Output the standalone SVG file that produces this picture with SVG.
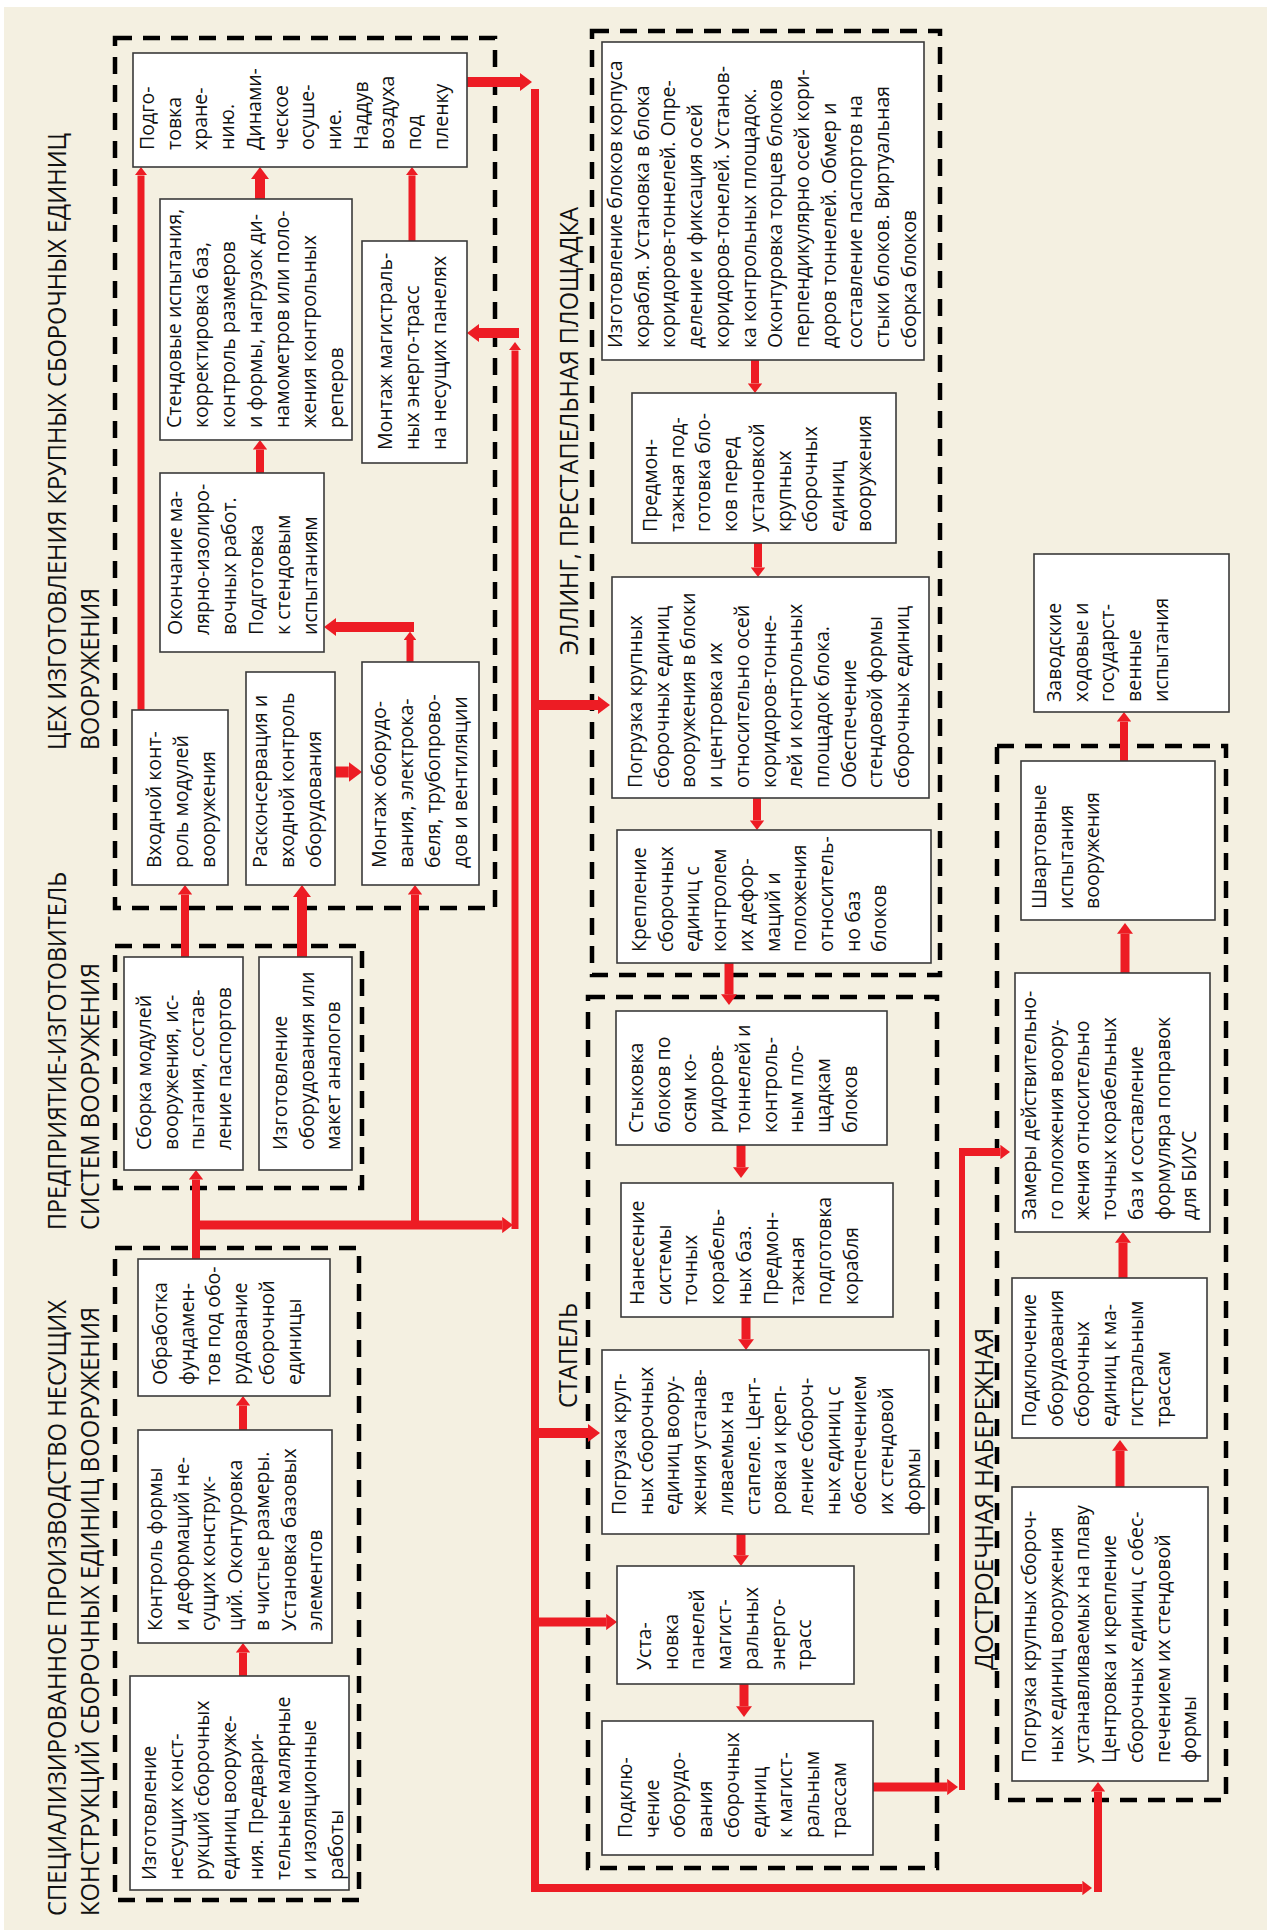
<svg xmlns="http://www.w3.org/2000/svg" width="1267" height="1930" viewBox="0 0 1267 1930">
<style>
.bg{fill:#f4f0e1}
.grp{fill:none;stroke:#000;stroke-width:4.5;stroke-dasharray:17 11}
.box{fill:#fff;stroke:#3a3a3a;stroke-width:1.6}
.t{font-family:"Open Sans","Noto Sans",sans-serif;font-size:19.5px;fill:#111}
.h{font-family:"Open Sans","Noto Sans",sans-serif;font-size:26px;fill:#111}
.c{fill:none;stroke:#ed1c24;stroke-linejoin:miter}
</style>
<defs>
<marker id="ah" viewBox="0 0 12 18" refX="0" refY="9" markerWidth="1.2" markerHeight="1.8" markerUnits="strokeWidth" orient="auto"><path d="M0,0 L12,9 L0,18 Z" fill="#ed1c24"/></marker>
</defs>
<rect class="bg" x="4" y="7" width="1263" height="1923"/>

<g id="groups">
<rect class="grp" x="115" y="38" width="380" height="870"/>
<rect class="grp" x="115" y="946" width="247" height="242"/>
<rect class="grp" x="115" y="1248" width="244" height="652"/>
<rect class="grp" x="592" y="31" width="348" height="944"/>
<rect class="grp" x="588" y="997" width="349" height="871"/>
<rect class="grp" x="997" y="746" width="229" height="1054"/>
</g>

<g id="titles">
<text class="h" transform="translate(66,750) rotate(-90)" textLength="617" lengthAdjust="spacingAndGlyphs">ЦЕХ ИЗГОТОВЛЕНИЯ КРУПНЫХ СБОРОЧНЫХ ЕДИНИЦ</text>
<text class="h" transform="translate(99,750) rotate(-90)" textLength="162" lengthAdjust="spacingAndGlyphs">ВООРУЖЕНИЯ</text>
<text class="h" transform="translate(66,1230) rotate(-90)" textLength="358" lengthAdjust="spacingAndGlyphs">ПРЕДПРИЯТИЕ-ИЗГОТОВИТЕЛЬ</text>
<text class="h" transform="translate(99,1230) rotate(-90)" textLength="267" lengthAdjust="spacingAndGlyphs">СИСТЕМ ВООРУЖЕНИЯ</text>
<text class="h" transform="translate(66,1916) rotate(-90)" textLength="616" lengthAdjust="spacingAndGlyphs">СПЕЦИАЛИЗИРОВАННОЕ ПРОИЗВОДСТВО НЕСУЩИХ</text>
<text class="h" transform="translate(99,1916) rotate(-90)" textLength="609" lengthAdjust="spacingAndGlyphs">КОНСТРУКЦИЙ СБОРОЧНЫХ ЕДИНИЦ ВООРУЖЕНИЯ</text>
<text class="h" transform="translate(578,655) rotate(-90)" textLength="448" lengthAdjust="spacingAndGlyphs">ЭЛЛИНГ, ПРЕСТАПЕЛЬНАЯ ПЛОЩАДКА</text>
<text class="h" transform="translate(577,1408) rotate(-90)" textLength="105" lengthAdjust="spacingAndGlyphs">СТАПЕЛЬ</text>
<text class="h" transform="translate(993,1670) rotate(-90)" textLength="342" lengthAdjust="spacingAndGlyphs">ДОСТРОЕЧНАЯ НАБЕРЕЖНАЯ</text>
</g>

<g id="connectors" class="c" marker-end="url(#ah)">
<path d="M141,710 V175.4" stroke-width="7" marker-end="url(#ah)"/>
<path d="M260,199 V179" stroke-width="10" marker-end="url(#ah)"/>
<path d="M412,241 V175.4" stroke-width="7" marker-end="url(#ah)"/>
<path d="M260,473 V449.6" stroke-width="8" marker-end="url(#ah)"/>
<path d="M410,662 V640" stroke-width="7" marker-end="url(#ah)"/>
<path d="M414,627 H336" stroke-width="10" marker-end="url(#ah)"/>
<path d="M335,772 H348.8" stroke-width="11" marker-end="url(#ah)"/>
<path d="M467,82 H520" stroke-width="10" marker-end="url(#ah)"/>
<path d="M535,89 V1888 H1082.4" stroke-width="8" marker-end="url(#ah)"/>
<path d="M1098,1892 V1791.6" stroke-width="8" marker-end="url(#ah)"/>
<path d="M539,705 H598" stroke-width="10" marker-end="url(#ah)"/>
<path d="M539,1433 H588" stroke-width="10" marker-end="url(#ah)"/>
<path d="M539,1622 H606.2" stroke-width="9" marker-end="url(#ah)"/>
<path d="M185,957 V894.6" stroke-width="8" marker-end="url(#ah)"/>
<path d="M302,957 V897" stroke-width="10" marker-end="url(#ah)"/>
<path d="M196,1259 V1179.6" stroke-width="8" marker-end="url(#ah)"/>
<path d="M200,1225 H502.2" stroke-width="9" marker-end="url(#ah)"/>
<path d="M415,1229 V894.6" stroke-width="8" marker-end="url(#ah)"/>
<path d="M515,1229 V350.4" stroke-width="7" marker-end="url(#ah)"/>
<path d="M519,333 H479" stroke-width="10" marker-end="url(#ah)"/>
<path d="M243,1430 V1405.6" stroke-width="8" marker-end="url(#ah)"/>
<path d="M243,1676 V1652.6" stroke-width="8" marker-end="url(#ah)"/>
<path d="M755,360 V383.4" stroke-width="8" marker-end="url(#ah)"/>
<path d="M758,543 V567.4" stroke-width="8" marker-end="url(#ah)"/>
<path d="M757,798 V820.4" stroke-width="8" marker-end="url(#ah)"/>
<path d="M729,963 V994.2" stroke-width="9" marker-end="url(#ah)"/>
<path d="M741,1145 V1167.2" stroke-width="9" marker-end="url(#ah)"/>
<path d="M746,1317 V1339.2" stroke-width="9" marker-end="url(#ah)"/>
<path d="M741,1534 V1555.2" stroke-width="9" marker-end="url(#ah)"/>
<path d="M744,1684 V1706.2" stroke-width="9" marker-end="url(#ah)"/>
<path d="M873,1787 H947.2" stroke-width="9" marker-end="url(#ah)"/>
<path d="M962,1790 V1149" stroke-width="6" marker-end="none"/>
<path d="M959,1152 H1000.4" stroke-width="8" marker-end="url(#ah)"/>
<path d="M1120,1487 V1450.8" stroke-width="9" marker-end="url(#ah)"/>
<path d="M1123,1278 V1242.8" stroke-width="9" marker-end="url(#ah)"/>
<path d="M1125,973 V933.8" stroke-width="9" marker-end="url(#ah)"/>
<path d="M1124,761 V721.6" stroke-width="8" marker-end="url(#ah)"/>
</g>

<g id="n-podgotovka"><rect class="box" x="133" y="53" width="334" height="114"/>
<text class="t" transform="translate(154,150) rotate(-90)"><tspan x="0" y="0">Подго-</tspan><tspan x="0" dy="26.7">товка</tspan><tspan x="0" dy="26.7">хране-</tspan><tspan x="0" dy="26.7">нию.</tspan><tspan x="0" dy="26.7">Динами-</tspan><tspan x="0" dy="26.7">ческое</tspan><tspan x="0" dy="26.7">осуше-</tspan><tspan x="0" dy="26.7">ние.</tspan><tspan x="0" dy="26.7">Наддув</tspan><tspan x="0" dy="26.7">воздуха</tspan><tspan x="0" dy="26.7">под</tspan><tspan x="0" dy="26.7">пленку</tspan></text></g>

<g id="n-stend"><rect class="box" x="160" y="199" width="192" height="241"/>
<text class="t" transform="translate(181,428) rotate(-90)"><tspan x="0" y="0">Стендовые испытания,</tspan><tspan x="0" dy="27">корректировка баз,</tspan><tspan x="0" dy="27">контроль размеров</tspan><tspan x="0" dy="27">и формы, нагрузок ди-</tspan><tspan x="0" dy="27">намометров или поло-</tspan><tspan x="0" dy="27">жения контрольных</tspan><tspan x="0" dy="27">реперов</tspan></text></g>

<g id="n-montazh-mag"><rect class="box" x="362" y="241" width="105" height="222"/>
<text class="t" transform="translate(392,450) rotate(-90)"><tspan x="0" y="0">Монтаж магистраль-</tspan><tspan x="0" dy="27">ных энерго-трасс</tspan><tspan x="0" dy="27">на несущих панелях</tspan></text></g>

<g id="n-okonchanie"><rect class="box" x="160" y="473" width="164" height="179"/>
<text class="t" transform="translate(182,635) rotate(-90)"><tspan x="0" y="0">Окончание ма-</tspan><tspan x="0" dy="27">лярно-изолиро-</tspan><tspan x="0" dy="27">вочных работ.</tspan><tspan x="0" dy="27">Подготовка</tspan><tspan x="0" dy="27">к стендовым</tspan><tspan x="0" dy="27">испытаниям</tspan></text></g>

<g id="n-vhodnoy"><rect class="box" x="132" y="710" width="96" height="175"/>
<text class="t" transform="translate(161,868) rotate(-90)"><tspan x="0" y="0">Входной конт-</tspan><tspan x="0" dy="27">роль модулей</tspan><tspan x="0" dy="27">вооружения</tspan></text></g>

<g id="n-raskons"><rect class="box" x="246" y="672" width="89" height="213"/>
<text class="t" transform="translate(267,868) rotate(-90)"><tspan x="0" y="0">Расконсервация и</tspan><tspan x="0" dy="27">входной контроль</tspan><tspan x="0" dy="27">оборудования</tspan></text></g>

<g id="n-montazh-obor"><rect class="box" x="362" y="662" width="117" height="223"/>
<text class="t" transform="translate(386,868) rotate(-90)"><tspan x="0" y="0">Монтаж оборудо-</tspan><tspan x="0" dy="27">вания, электрока-</tspan><tspan x="0" dy="27">беля, трубопрово-</tspan><tspan x="0" dy="27">дов и вентиляции</tspan></text></g>

<g id="n-sborka"><rect class="box" x="124" y="957" width="119" height="213"/>
<text class="t" transform="translate(151,1150) rotate(-90)"><tspan x="0" y="0">Сборка модулей</tspan><tspan x="0" dy="26.7">вооружения, ис-</tspan><tspan x="0" dy="26.7">пытания, состав-</tspan><tspan x="0" dy="26.7">ление паспортов</tspan></text></g>

<g id="n-izg-obor"><rect class="box" x="259" y="957" width="93" height="213"/>
<text class="t" transform="translate(287,1150) rotate(-90)"><tspan x="0" y="0">Изготовление</tspan><tspan x="0" dy="26.7">оборудования или</tspan><tspan x="0" dy="26.7">макет аналогов</tspan></text></g>

<g id="n-obrabotka"><rect class="box" x="138" y="1259" width="192" height="137"/>
<text class="t" transform="translate(167,1385) rotate(-90)"><tspan x="0" y="0">Обработка</tspan><tspan x="0" dy="26.7">фундамен-</tspan><tspan x="0" dy="26.7">тов под обо-</tspan><tspan x="0" dy="26.7">рудование</tspan><tspan x="0" dy="26.7">сборочной</tspan><tspan x="0" dy="26.7">единицы</tspan></text></g>

<g id="n-kontrol"><rect class="box" x="138" y="1430" width="194" height="213"/>
<text class="t" transform="translate(162,1631) rotate(-90)"><tspan x="0" y="0">Контроль формы</tspan><tspan x="0" dy="26.7">и деформаций не-</tspan><tspan x="0" dy="26.7">сущих конструк-</tspan><tspan x="0" dy="26.7">ций. Оконтуровка</tspan><tspan x="0" dy="26.7">в чистые размеры.</tspan><tspan x="0" dy="26.7">Установка базовых</tspan><tspan x="0" dy="26.7">элементов</tspan></text></g>

<g id="n-izg-nes"><rect class="box" x="130" y="1676" width="219" height="214"/>
<text class="t" transform="translate(156,1880) rotate(-90)"><tspan x="0" y="0">Изготовление</tspan><tspan x="0" dy="26.7">несущих конст-</tspan><tspan x="0" dy="26.7">рукций сборочных</tspan><tspan x="0" dy="26.7">единиц вооруже-</tspan><tspan x="0" dy="26.7">ния. Предвари-</tspan><tspan x="0" dy="26.7">тельные малярные</tspan><tspan x="0" dy="26.7">и изоляционные</tspan><tspan x="0" dy="26.7">работы</tspan></text></g>

<g id="n-izg-blokov"><rect class="box" x="602" y="42" width="322" height="318"/>
<text class="t" transform="translate(622,348) rotate(-90)"><tspan x="0" y="0">Изготовление блоков корпуса</tspan><tspan x="0" dy="26.7">корабля. Установка в блока</tspan><tspan x="0" dy="26.7">коридоров-тоннелей. Опре-</tspan><tspan x="0" dy="26.7">деление и фиксация осей</tspan><tspan x="0" dy="26.7">коридоров-тонелей. Установ-</tspan><tspan x="0" dy="26.7">ка контрольных площадок.</tspan><tspan x="0" dy="26.7">Оконтуровка торцев блоков</tspan><tspan x="0" dy="26.7">перпендикулярно осей кори-</tspan><tspan x="0" dy="26.7">доров тоннелей. Обмер и</tspan><tspan x="0" dy="26.7">составление паспортов на</tspan><tspan x="0" dy="26.7">стыки блоков. Виртуальная</tspan><tspan x="0" dy="26.7">сборка блоков</tspan></text></g>

<g id="n-predmontazh"><rect class="box" x="632" y="393" width="264" height="150"/>
<text class="t" transform="translate(657,532) rotate(-90)"><tspan x="0" y="0">Предмон-</tspan><tspan x="0" dy="26.7">тажная под-</tspan><tspan x="0" dy="26.7">готовка бло-</tspan><tspan x="0" dy="26.7">ков перед</tspan><tspan x="0" dy="26.7">установкой</tspan><tspan x="0" dy="26.7">крупных</tspan><tspan x="0" dy="26.7">сборочных</tspan><tspan x="0" dy="26.7">единиц</tspan><tspan x="0" dy="26.7">вооружения</tspan></text></g>

<g id="n-pogruzka-el"><rect class="box" x="612" y="577" width="317" height="221"/>
<text class="t" transform="translate(642,788) rotate(-90)"><tspan x="0" y="0">Погрузка крупных</tspan><tspan x="0" dy="26.7">сборочных единиц</tspan><tspan x="0" dy="26.7">вооружения в блоки</tspan><tspan x="0" dy="26.7">и центровка их</tspan><tspan x="0" dy="26.7">относительно осей</tspan><tspan x="0" dy="26.7">коридоров-тонне-</tspan><tspan x="0" dy="26.7">лей и контрольных</tspan><tspan x="0" dy="26.7">площадок блока.</tspan><tspan x="0" dy="26.7">Обеспечение</tspan><tspan x="0" dy="26.7">стендовой формы</tspan><tspan x="0" dy="26.7">сборочных единиц</tspan></text></g>

<g id="n-kreplenie"><rect class="box" x="617" y="830" width="314" height="133"/>
<text class="t" transform="translate(646,952) rotate(-90)"><tspan x="0" y="0">Крепление</tspan><tspan x="0" dy="26.7">сборочных</tspan><tspan x="0" dy="26.7">единиц с</tspan><tspan x="0" dy="26.7">контролем</tspan><tspan x="0" dy="26.7">их дефор-</tspan><tspan x="0" dy="26.7">маций и</tspan><tspan x="0" dy="26.7">положения</tspan><tspan x="0" dy="26.7">относитель-</tspan><tspan x="0" dy="26.7">но баз</tspan><tspan x="0" dy="26.7">блоков</tspan></text></g>

<g id="n-stykovka"><rect class="box" x="616" y="1011" width="271" height="134"/>
<text class="t" transform="translate(643,1133) rotate(-90)"><tspan x="0" y="0">Стыковка</tspan><tspan x="0" dy="26.7">блоков по</tspan><tspan x="0" dy="26.7">осям ко-</tspan><tspan x="0" dy="26.7">ридоров-</tspan><tspan x="0" dy="26.7">тоннелей и</tspan><tspan x="0" dy="26.7">контроль-</tspan><tspan x="0" dy="26.7">ным пло-</tspan><tspan x="0" dy="26.7">щадкам</tspan><tspan x="0" dy="26.7">блоков</tspan></text></g>

<g id="n-nanesenie"><rect class="box" x="621" y="1183" width="272" height="134"/>
<text class="t" transform="translate(644,1305) rotate(-90)"><tspan x="0" y="0">Нанесение</tspan><tspan x="0" dy="26.7">системы</tspan><tspan x="0" dy="26.7">точных</tspan><tspan x="0" dy="26.7">корабель-</tspan><tspan x="0" dy="26.7">ных баз.</tspan><tspan x="0" dy="26.7">Предмон-</tspan><tspan x="0" dy="26.7">тажная</tspan><tspan x="0" dy="26.7">подготовка</tspan><tspan x="0" dy="26.7">корабля</tspan></text></g>

<g id="n-pogruzka-st"><rect class="box" x="602" y="1350" width="327" height="184"/>
<text class="t" transform="translate(626,1515) rotate(-90)"><tspan x="0" y="0">Погрузка круп-</tspan><tspan x="0" dy="26.7">ных сборочных</tspan><tspan x="0" dy="26.7">единиц воору-</tspan><tspan x="0" dy="26.7">жения устанав-</tspan><tspan x="0" dy="26.7">ливаемых на</tspan><tspan x="0" dy="26.7">стапеле. Цент-</tspan><tspan x="0" dy="26.7">ровка и креп-</tspan><tspan x="0" dy="26.7">ление сбороч-</tspan><tspan x="0" dy="26.7">ных единиц с</tspan><tspan x="0" dy="26.7">обеспечением</tspan><tspan x="0" dy="26.7">их стендовой</tspan><tspan x="0" dy="26.7">формы</tspan></text></g>

<g id="n-ustanovka"><rect class="box" x="617" y="1566" width="237" height="118"/>
<text class="t" transform="translate(651,1670) rotate(-90)"><tspan x="0" y="0">Уста-</tspan><tspan x="0" dy="26.7">новка</tspan><tspan x="0" dy="26.7">панелей</tspan><tspan x="0" dy="26.7">магист-</tspan><tspan x="0" dy="26.7">ральных</tspan><tspan x="0" dy="26.7">энерго-</tspan><tspan x="0" dy="26.7">трасс</tspan></text></g>

<g id="n-podkl-st"><rect class="box" x="602" y="1721" width="271" height="134"/>
<text class="t" transform="translate(632,1838) rotate(-90)"><tspan x="0" y="0">Подклю-</tspan><tspan x="0" dy="26.7">чение</tspan><tspan x="0" dy="26.7">оборудо-</tspan><tspan x="0" dy="26.7">вания</tspan><tspan x="0" dy="26.7">сборочных</tspan><tspan x="0" dy="26.7">единиц</tspan><tspan x="0" dy="26.7">к магист-</tspan><tspan x="0" dy="26.7">ральным</tspan><tspan x="0" dy="26.7">трассам</tspan></text></g>

<g id="n-pogruzka-nab"><rect class="box" x="1012" y="1487" width="196" height="294"/>
<text class="t" transform="translate(1036,1763) rotate(-90)"><tspan x="0" y="0">Погрузка крупных сбороч-</tspan><tspan x="0" dy="26.7">ных единиц вооружения</tspan><tspan x="0" dy="26.7">устанавливаемых на плаву</tspan><tspan x="0" dy="26.7">Центровка и крепление</tspan><tspan x="0" dy="26.7">сборочных единиц с обес-</tspan><tspan x="0" dy="26.7">печением их стендовой</tspan><tspan x="0" dy="26.7">формы</tspan></text></g>

<g id="n-podkl-nab"><rect class="box" x="1012" y="1278" width="195" height="160"/>
<text class="t" transform="translate(1036,1427) rotate(-90)"><tspan x="0" y="0">Подключение</tspan><tspan x="0" dy="26.7">оборудования</tspan><tspan x="0" dy="26.7">сборочных</tspan><tspan x="0" dy="26.7">единиц к ма-</tspan><tspan x="0" dy="26.7">гистральным</tspan><tspan x="0" dy="26.7">трассам</tspan></text></g>

<g id="n-zamery"><rect class="box" x="1015" y="973" width="195" height="259"/>
<text class="t" transform="translate(1036,1220) rotate(-90)"><tspan x="0" y="0">Замеры действительно-</tspan><tspan x="0" dy="26.7">го положения воору-</tspan><tspan x="0" dy="26.7">жения относительно</tspan><tspan x="0" dy="26.7">точных корабельных</tspan><tspan x="0" dy="26.7">баз и составление</tspan><tspan x="0" dy="26.7">формуляра поправок</tspan><tspan x="0" dy="26.7">для БИУС</tspan></text></g>

<g id="n-shvart"><rect class="box" x="1021" y="761" width="194" height="159"/>
<text class="t" transform="translate(1046,909) rotate(-90)"><tspan x="0" y="0">Швартовные</tspan><tspan x="0" dy="26.7">испытания</tspan><tspan x="0" dy="26.7">вооружения</tspan></text></g>

<g id="n-zavod"><rect class="box" x="1034" y="554" width="195" height="158"/>
<text class="t" transform="translate(1061,702) rotate(-90)"><tspan x="0" y="0">Заводские</tspan><tspan x="0" dy="26.7">ходовые и</tspan><tspan x="0" dy="26.7">государст-</tspan><tspan x="0" dy="26.7">венные</tspan><tspan x="0" dy="26.7">испытания</tspan></text></g>
</svg>
